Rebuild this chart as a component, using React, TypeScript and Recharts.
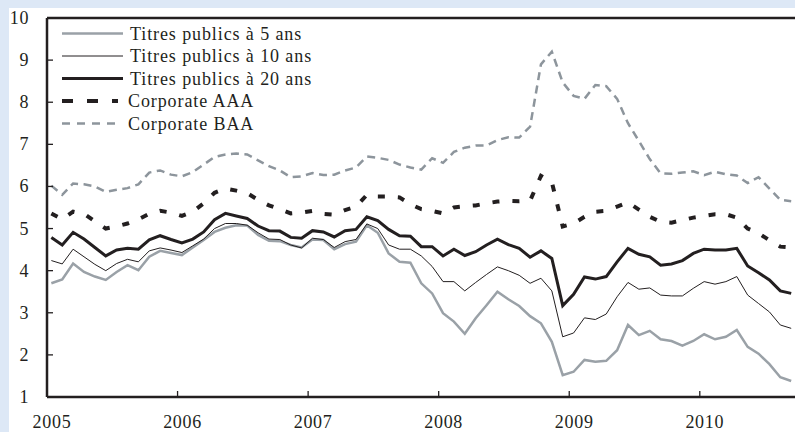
import { Line, LineChart, ReferenceLine, XAxis, YAxis } from "recharts"

// monthly series, Jan 2005 -> Sep 2010
const titres5 = [
  3.7, 3.79, 4.17, 3.97, 3.86, 3.78, 3.97, 4.13, 4.01, 4.33,
  4.47, 4.42, 4.37, 4.55, 4.73, 4.92, 5.02, 5.08, 5.07, 4.85,
  4.71, 4.7, 4.61, 4.55, 4.74, 4.73, 4.51, 4.63, 4.69, 5.08,
  4.9, 4.41, 4.21, 4.19, 3.7, 3.46, 2.99, 2.79, 2.5, 2.87,
  3.18, 3.5, 3.32, 3.16, 2.92, 2.75, 2.31, 1.52, 1.6, 1.88,
  1.84, 1.86, 2.11, 2.71, 2.47, 2.57, 2.37, 2.33, 2.22, 2.33,
  2.49, 2.37, 2.43, 2.59, 2.19, 2.03, 1.78, 1.47, 1.38,
]
const titres10 = [
  4.24, 4.16, 4.51, 4.33, 4.15, 4.0, 4.17, 4.27, 4.21, 4.47,
  4.54, 4.49, 4.43, 4.59, 4.75, 5.0, 5.12, 5.12, 5.08, 4.9,
  4.75, 4.74, 4.61, 4.54, 4.77, 4.74, 4.55, 4.69, 4.74, 5.11,
  5.0, 4.61, 4.51, 4.51, 4.35, 4.1, 3.74, 3.74, 3.52, 3.72,
  3.91, 4.09, 4.0, 3.89, 3.7, 3.82, 3.52, 2.43, 2.52, 2.88,
  2.84, 2.97, 3.38, 3.72, 3.56, 3.59, 3.42, 3.4, 3.4, 3.58,
  3.74, 3.68, 3.74, 3.86, 3.42, 3.22, 3.02, 2.71, 2.63,
]
const titres20 = [
  4.79, 4.61, 4.91, 4.75, 4.55, 4.35, 4.49, 4.53, 4.51, 4.73,
  4.83, 4.74, 4.66, 4.75, 4.92, 5.21, 5.36, 5.3, 5.24, 5.06,
  4.95, 4.94, 4.79, 4.77, 4.95, 4.92, 4.8, 4.95, 4.98, 5.28,
  5.19, 4.98, 4.83, 4.82, 4.57, 4.57, 4.35, 4.51, 4.36, 4.45,
  4.61, 4.75, 4.62, 4.53, 4.32, 4.47, 4.29, 3.17, 3.44, 3.85,
  3.8, 3.86, 4.21, 4.53, 4.39, 4.33, 4.13, 4.16, 4.24, 4.41,
  4.51, 4.49, 4.49, 4.53, 4.11, 3.95, 3.78, 3.52, 3.46,
]
const corpAAA = [
  5.36, 5.22, 5.4, 5.35, 5.17, 5.0, 5.05, 5.12, 5.22, 5.35,
  5.42, 5.38, 5.3, 5.4, 5.6, 5.85, 5.95, 5.9, 5.84, 5.68,
  5.55, 5.46, 5.36, 5.38, 5.42, 5.35, 5.33, 5.44, 5.52, 5.8,
  5.76, 5.76, 5.74, 5.58, 5.46, 5.42, 5.36, 5.5, 5.53, 5.55,
  5.6, 5.64, 5.66, 5.65, 5.66, 6.25, 6.1, 5.05, 5.12, 5.28,
  5.4, 5.42, 5.52, 5.62, 5.45, 5.28, 5.16, 5.14, 5.2, 5.26,
  5.3, 5.34, 5.34, 5.26, 5.0, 4.89, 4.72, 4.57, 4.55,
]
const corpBAA = [
  6.02, 5.8, 6.07, 6.05, 6.0, 5.87, 5.92, 5.96, 6.05, 6.33,
  6.38, 6.28, 6.24, 6.34, 6.52, 6.7, 6.76, 6.78, 6.76, 6.62,
  6.48, 6.38, 6.22, 6.24, 6.32, 6.27, 6.28, 6.38, 6.45, 6.71,
  6.68, 6.63, 6.52, 6.45, 6.4, 6.67, 6.56, 6.82, 6.92, 6.97,
  6.97, 7.1, 7.17, 7.16, 7.42, 8.9, 9.2, 8.47, 8.15, 8.08,
  8.41, 8.38, 8.08, 7.5, 7.08, 6.65, 6.31, 6.3, 6.33, 6.36,
  6.27, 6.35, 6.29, 6.26, 6.08, 6.22, 5.95, 5.68, 5.65,
]

const yearLabels = ["2005", "2006", "2007", "2008", "2009", "2010"]
const yTicks = [1, 2, 3, 4, 5, 6, 7, 8, 9, 10]

const BG = "#dde8f6"
const INK = "#231f20"
const GREY = "#9aa1a7"
const GREY_DASH = "#8d959c"
const FONT = "'Liberation Serif', 'Times New Roman', serif"

const Y_MARGIN = 18
const X_MARGIN = 18

const data = titres5.map((v, i) => ({
  t: i + 0.4,
  t5: v,
  t10: titres10[i],
  t20: titres20[i],
  aaa: corpAAA[i],
  baa: corpBAA[i],
}))

function YTick(props: any) {
  const { x, y, payload } = props
  const axisX = x + Y_MARGIN
  return (
    <g>
      <line x1={axisX} x2={axisX + 6} y1={y} y2={y} stroke={INK} strokeWidth={1.3} />
      <text
        x={x}
        y={y}
        textAnchor="end"
        dominantBaseline="central"
        fontFamily={FONT}
        fontSize={18}
        letterSpacing={0.6}
        fill={INK}
      >
        {payload.value}
      </text>
    </g>
  )
}

function XTick(props: any) {
  const { x, y, payload } = props
  const axisY = y - X_MARGIN
  return (
    <g>
      <line x1={x} x2={x} y1={axisY} y2={axisY - 6} stroke={INK} strokeWidth={1.3} />
      <text
        x={x + 5}
        y={y}
        dy="0.71em"
        textAnchor="middle"
        fontFamily={FONT}
        fontSize={18}
        letterSpacing={0.7}
        fill={INK}
      >
        {yearLabels[payload.value / 12]}
      </text>
    </g>
  )
}

const legendItems = [
  { label: "Titres publics à 5 ans", color: GREY, width: 2.5, dash: undefined },
  { label: "Titres publics à 10 ans", color: INK, width: 1, dash: undefined },
  { label: "Titres publics à 20 ans", color: INK, width: 3, dash: undefined },
  { label: "Corporate AAA", color: INK, width: 4, dash: "11 14" },
  { label: "Corporate BAA", color: GREY_DASH, width: 2.5, dash: "8 7" },
]

function Legend() {
  return (
    <svg
      width={320}
      height={140}
      style={{ position: "absolute", left: 0, top: 0, pointerEvents: "none" }}
    >
      {legendItems.map((it, i) => {
        const cy = 33.5 + i * 22.5
        return (
          <g key={it.label}>
            <line
              x1={62}
              x2={it.dash ? 118 : 123}
              y1={cy}
              y2={cy}
              stroke={it.color}
              strokeWidth={it.width}
              strokeDasharray={it.dash}
            />
            <text
              x={i < 3 ? 130 : 128}
              y={cy}
              dominantBaseline="central"
              fontFamily={FONT}
              fontSize={18}
              letterSpacing={0.9}
              fill={INK}
            >
              {it.label}
            </text>
          </g>
        )
      })}
    </svg>
  )
}

export default function App() {
  return (
    <div
      style={{
        position: "absolute",
        left: 0,
        top: 0,
        width: 795,
        height: 432,
        background: BG,
        overflow: "hidden",
      }}
    >
      <div style={{ position: "absolute", left: 9, top: 8, right: 0, bottom: 0, background: "#fff" }} />
      <div style={{ position: "absolute", left: 0, top: 0 }}>
        <LineChart width={795} height={432} data={data} margin={{ top: 18, right: 0, bottom: 0, left: 0 }}>
          <XAxis
            dataKey="t"
            type="number"
            domain={[0, 68.75]}
            ticks={yearLabels.map((_, i) => i * 12)}
            height={35}
            tickSize={0}
            tickMargin={X_MARGIN}
            tickLine={false}
            axisLine={{ stroke: INK, strokeWidth: 2.5 }}
            tick={(p: any) => <XTick {...p} />}
            interval={0}
          />
          <YAxis
            type="number"
            domain={[1, 10]}
            ticks={yTicks}
            width={47}
            tickSize={0}
            tickMargin={Y_MARGIN}
            tickLine={false}
            axisLine={{ stroke: INK, strokeWidth: 2.5 }}
            tick={(p: any) => <YTick {...p} />}
            interval={0}
          />
          <ReferenceLine y={10} stroke={INK} strokeWidth={2.5} />
          <Line dataKey="baa" stroke={GREY_DASH} strokeWidth={2.5} strokeDasharray="8 5.5" dot={false} isAnimationActive={false} />
          <Line dataKey="aaa" stroke={INK} strokeWidth={4} strokeDasharray="7 13" dot={false} isAnimationActive={false} />
          <Line dataKey="t5" stroke={GREY} strokeWidth={2.5} dot={false} isAnimationActive={false} />
          <Line dataKey="t10" stroke={INK} strokeWidth={1} dot={false} isAnimationActive={false} />
          <Line dataKey="t20" stroke={INK} strokeWidth={3} dot={false} isAnimationActive={false} />
        </LineChart>
      </div>
      <Legend />
    </div>
  )
}
